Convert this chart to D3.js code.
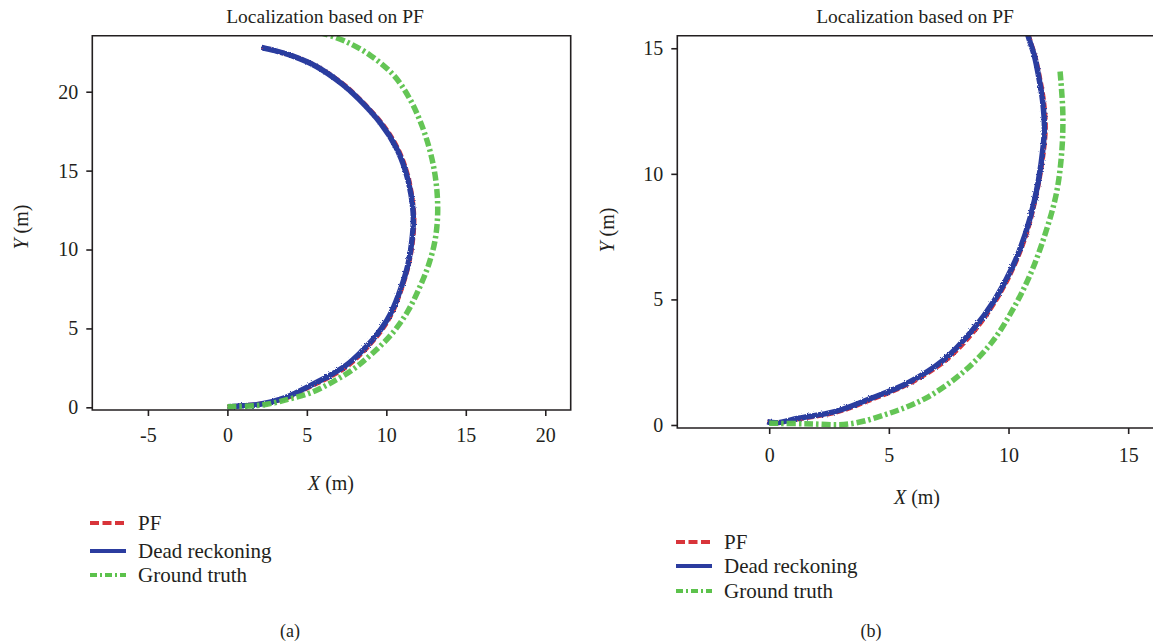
<!DOCTYPE html>
<html>
<head>
<meta charset="utf-8">
<script src="https://cdn.jsdelivr.net/npm/d3@7"></script>
<style>
  body { margin: 0; background: #fff; }
  svg { display: block; }
  text { font-family: "Liberation Serif", "Times New Roman", serif; fill: #231f20; }
</style>
</head>
<body>
<svg id="chart" width="1153" height="644"></svg>
<script>
// ---- data -------------------------------------------------------------
const seriesNames = ["PF", "Dead reckoning", "Ground truth"];
const titleText = "Localization based on PF";

// Panel (a)
const aTicksX = [-5, 0, 5, 10, 15, 20];
const aTicksY = [0, 5, 10, 15, 20];
const aDeadX = [0, 1.0, 2.05, 3.6, 5.08, 6.4, 7.5, 8.4, 9.15, 9.7, 10.3, 10.9, 11.35, 11.6, 11.7, 11.55, 11.2, 10.6, 9.64, 8.3, 7.2, 5.6, 4.0, 3.0, 2.15];
const aDeadY = [0.04, 0.1, 0.19, 0.6, 1.31, 2.0, 2.69, 3.5, 4.3, 5.0, 6.0, 7.5, 9.0, 10.5, 12.0, 13.5, 15.0, 16.5, 18.0, 19.5, 20.5, 21.6, 22.3, 22.6, 22.8];
const aPfX = [0, 1.0, 2.1, 3.7, 5.15, 6.5, 7.58, 8.48, 9.2, 9.76, 10.37, 10.96, 11.4, 11.66, 11.75, 11.6, 11.27, 10.68, 9.72, 8.36, 7.25, 5.62, 4.0, 3.0, 2.15];
const aPfY = [0.04, 0.12, 0.22, 0.58, 1.28, 1.95, 2.62, 3.45, 4.25, 4.95, 5.98, 7.5, 9.0, 10.5, 12.0, 13.5, 15.0, 16.5, 18.0, 19.5, 20.52, 21.62, 22.3, 22.6, 22.8];
const aTruthX = [0, 2.2, 3.8, 5.3, 6.6, 7.9, 9.1, 10.3, 11.3, 12.05, 12.65, 13.05, 13.22, 13.2, 13.02, 12.68, 12.18, 11.5, 10.5, 9.0, 7.4, 6.0];
const aTruthY = [0.04, 0.15, 0.5, 0.95, 1.6, 2.4, 3.4, 4.6, 6.0, 7.5, 9.0, 10.5, 12.0, 13.5, 15.0, 16.5, 18.0, 19.5, 21.0, 22.3, 23.2, 23.7];

// Panel (b)
const bTicksX = [0, 5, 10, 15];
const bTicksY = [0, 5, 10, 15];
const bDeadX = [-0.08, 0.3, 1.22, 2.74, 4.25, 5.77, 7.29, 8.5, 9.42, 10.17, 10.71, 11.09, 11.36, 11.5, 11.42, 11.26, 11.09, 10.81, 10.7];
const bDeadY = [0.13, 0.09, 0.27, 0.53, 1.06, 1.66, 2.59, 3.78, 4.98, 6.3, 7.63, 8.96, 10.4, 11.8, 12.94, 13.87, 14.66, 15.53, 16.0];
const bPfX = [-0.08, 0.3, 1.25, 2.8, 4.3, 5.8, 7.35, 8.55, 9.45, 10.2, 10.75, 11.12, 11.4, 11.55, 11.47, 11.3, 11.12, 10.84, 10.72];
const bPfY = [0.13, 0.08, 0.24, 0.5, 1.02, 1.62, 2.55, 3.72, 4.92, 6.25, 7.6, 8.96, 10.4, 11.8, 12.94, 13.87, 14.66, 15.53, 16.0];
const bTruthX = [0, 1.5, 3.34, 5.0, 6.53, 8.05, 9.27, 10.17, 10.93, 11.54, 12.0, 12.22, 12.27, 12.15];
const bTruthY = [0.07, 0.05, 0.04, 0.46, 1.06, 2.06, 3.25, 4.58, 6.04, 7.63, 9.22, 10.82, 12.41, 14.13];

// ---- styles -----------------------------------------------------------
const colors = { pf: "#d8343a", dead: "#2b3c9f", truth: "#5cc24c" };
const ink = "#231f20";

const svg = d3.select("#chart");
const defs = svg.append("defs");

// slightly ragged stroke edges for the measured tracks
const rough = defs.append("filter").attr("id", "rough")
  .attr("x", "-5%").attr("y", "-5%").attr("width", "110%").attr("height", "110%");
rough.append("feTurbulence").attr("type", "fractalNoise").attr("baseFrequency", 0.7).attr("numOctaves", 1).attr("seed", 3).attr("result", "n");
rough.append("feDisplacementMap").attr("in", "SourceGraphic").attr("in2", "n").attr("scale", 3);

const zip = (xs, ys) => xs.map((x, i) => [x, ys[i]]);

function panel(cfg) {
  const x = d3.scaleLinear().domain(cfg.xDomain).range(cfg.xRange);
  const y = d3.scaleLinear().domain(cfg.yDomain).range(cfg.yRange);
  const g = svg.append("g");

  const clipId = "clip-" + cfg.id;
  defs.append("clipPath").attr("id", clipId).append("rect")
    .attr("x", cfg.xRange[0]).attr("y", cfg.yRange[1])
    .attr("width", cfg.xRange[1] - cfg.xRange[0]).attr("height", cfg.yRange[0] - cfg.yRange[1]);

  const line = d3.line().x(d => x(d[0])).y(d => y(d[1])).curve(d3.curveCatmullRom.alpha(0.5));
  const plot = g.append("g").attr("clip-path", `url(#${clipId})`);

  plot.append("path").datum(zip(cfg.pfX, cfg.pfY)).attr("d", line)
    .attr("fill", "none").attr("stroke", colors.pf).attr("stroke-width", 4.5)
    .attr("stroke-dasharray", "7,3");
  plot.append("path").datum(zip(cfg.deadX, cfg.deadY)).attr("d", line)
    .attr("fill", "none").attr("stroke", colors.dead).attr("stroke-width", 5.5)
    .attr("stroke-linejoin", "round").attr("filter", "url(#rough)");
  plot.append("path").datum(zip(cfg.truthX, cfg.truthY)).attr("d", line)
    .attr("fill", "none").attr("stroke", colors.truth).attr("stroke-width", 5.5)
    .attr("stroke-dasharray", cfg.truthDash).attr("opacity", 0.95);

  // frame
  g.append("path")
    .attr("d", cfg.rightBorder
      ? `M${cfg.xRange[0]},${cfg.yRange[1]}H${cfg.xRange[1]}V${cfg.yRange[0]}H${cfg.xRange[0]}Z`
      : `M${cfg.xRange[1]},${cfg.yRange[1]}H${cfg.xRange[0]}V${cfg.yRange[0]}H${cfg.xRange[1]}`)
    .attr("fill", "none").attr("stroke", ink).attr("stroke-width", 1.6);

  // axes
  const fmt = d => String(d);
  const ax = g.append("g").attr("transform", `translate(0,${cfg.yRange[0]})`)
    .call(d3.axisBottom(x).tickValues(cfg.ticksX).tickSize(6).tickPadding(cfg.xTickPad).tickSizeOuter(0).tickFormat(fmt));
  const ay = g.append("g").attr("transform", `translate(${cfg.xRange[0]},0)`)
    .call(d3.axisLeft(y).tickValues(cfg.ticksY).tickSize(6).tickPadding(8).tickSizeOuter(0).tickFormat(fmt));
  [ax, ay].forEach(a => {
    a.select(".domain").remove();
    a.selectAll("line").attr("stroke", ink).attr("stroke-width", 1.6);
    a.selectAll("text").attr("font-size", 20).attr("fill", ink)
      .style("font-family", '"Liberation Serif", serif');
  });

  // title
  g.append("text").attr("x", cfg.titleX).attr("y", 23).attr("text-anchor", "middle")
    .attr("font-size", 19.5).text(titleText);

  // axis titles
  const xl = g.append("text").attr("x", cfg.xLabel[0]).attr("y", cfg.xLabel[1])
    .attr("text-anchor", "middle").attr("font-size", 20);
  xl.append("tspan").attr("font-style", "italic").text("X");
  xl.append("tspan").text(" (m)");
  const yl = g.append("text")
    .attr("transform", `translate(${cfg.yLabel[0]},${cfg.yLabel[1]}) rotate(-90)`)
    .attr("text-anchor", "middle").attr("font-size", 20);
  yl.append("tspan").attr("font-style", "italic").text("Y");
  yl.append("tspan").text(" (m)");

  // legend
  const styles = [
    { c: colors.pf, dash: "9,3.5", w: 4 },
    { c: colors.dead, dash: null, w: 4 },
    { c: colors.truth, dash: "7,3,2,3", w: 4 }
  ];
  seriesNames.forEach((name, i) => {
    const ly = cfg.legendY[i];
    g.append("line").attr("x1", cfg.legendX).attr("x2", cfg.legendX + 36)
      .attr("y1", ly).attr("y2", ly)
      .attr("stroke", styles[i].c).attr("stroke-width", styles[i].w)
      .attr("stroke-dasharray", styles[i].dash);
    g.append("text").attr("x", cfg.legendX + 48).attr("y", ly).attr("dy", "0.33em")
      .attr("font-size", 21).text(name);
  });

  g.append("text").attr("x", cfg.caption[0]).attr("y", cfg.caption[1])
    .attr("text-anchor", "middle").attr("font-size", 18).text(cfg.captionText);
}

panel({
  id: "a",
  xDomain: [-8.5, 21.6], xRange: [92.3, 570.7],
  yDomain: [-0.17, 23.55], yRange: [410, 35.7],
  ticksX: aTicksX, ticksY: aTicksY, xTickPad: 12,
  deadX: aDeadX, deadY: aDeadY, pfX: aPfX, pfY: aPfY, truthX: aTruthX, truthY: aTruthY,
  truthDash: "9,3,2.5,3",
  rightBorder: true,
  titleX: 325, xLabel: [331, 490], yLabel: [28, 227],
  legendX: 90, legendY: [523, 551, 575],
  caption: [290, 637], captionText: "(a)"
});

panel({
  id: "b",
  xDomain: [-3.84, 16.33], xRange: [677.3, 1160],
  yDomain: [-0.12, 15.5], yRange: [428, 35.7],
  ticksX: bTicksX, ticksY: bTicksY, xTickPad: 14,
  deadX: bDeadX, deadY: bDeadY, pfX: bPfX, pfY: bPfY, truthX: bTruthX, truthY: bTruthY,
  truthDash: "9,3,2.5,3",
  rightBorder: false,
  titleX: 915, xLabel: [917, 504], yLabel: [614, 230],
  legendX: 676, legendY: [542, 566, 591],
  caption: [871, 637], captionText: "(b)"
});
</script>
</body>
</html>
